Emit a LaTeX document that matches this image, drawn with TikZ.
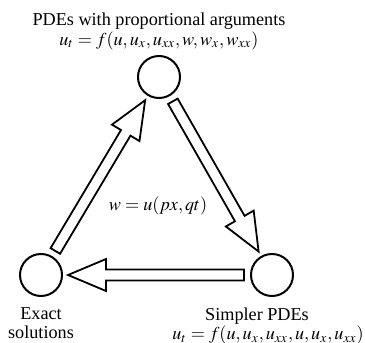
\documentclass[tikz,border=0pt]{standalone}
\usepackage{mathptmx}
\usepackage{fontspec}
\setmainfont{Liberation Serif}
\usetikzlibrary{positioning, calc}
\tikzset{
  stnode/.style = {draw, circle, line width=1pt, minimum size=21pt, inner sep=0pt},
  lbl/.style    = {font=\fontsize{9.1}{9.6}\selectfont, align=center, inner sep=0pt},
  hollow/.style = {draw, line width=0.9pt, fill=white, line join=miter},
}

\begin{document}
\begin{tikzpicture}[x=0.5pt, y=-0.5pt]
    \useasboundingbox (0,0) rectangle (365,343);

    \node[stnode] (top)     at (159,77)  {};
    \node[stnode] (exact)   at (41,275)  {};
    \node[stnode] (simpler) at (272,275) {};

    \node[lbl, above=2.5pt of top] (toplbl)
      {PDEs with proportional arguments\\
       $u_t = f(u, u_x, u_{xx}, w, w_x, w_{xx})$};
    \node[lbl, below=5pt of exact] (exactlbl) {Exact\\solutions};
    \node[lbl, below=5pt of simpler, xshift=-7.5pt] (simplerlbl) {Simpler PDEs};
    \node[lbl, anchor=north, yshift=-0.5pt, xshift=-2pt] (simplerfx) at (simplerlbl.south -| simpler)
      {$u_t = f(u, u_x, u_{xx}, u, u_x, u_{xx})$};
    \node[lbl] (subst) at (158,206) {$w = u(px, qt)$};

    % hollow arrows between the circles
    \foreach \s/\e in {exact/top, top/simpler, simpler/exact}{
      \coordinate (tl) at ($(\s)!14pt!(\e)$);
      \coordinate (tp) at ($(\e)!13.5pt!(\s)$);
      \coordinate (hd) at ($(tp)!19pt!(\s)$);
      \draw[hollow] ($(tl)!2.75pt!90:(\e)$) -- ($(hd)!2.75pt!90:(\e)$)
        -- ($(hd)!8pt!90:(\e)$) -- (tp) -- ($(hd)!8pt!-90:(\e)$)
        -- ($(hd)!2.75pt!-90:(\e)$) -- ($(tl)!2.75pt!-90:(\e)$) -- cycle;
    }
\end{tikzpicture}
\end{document}
